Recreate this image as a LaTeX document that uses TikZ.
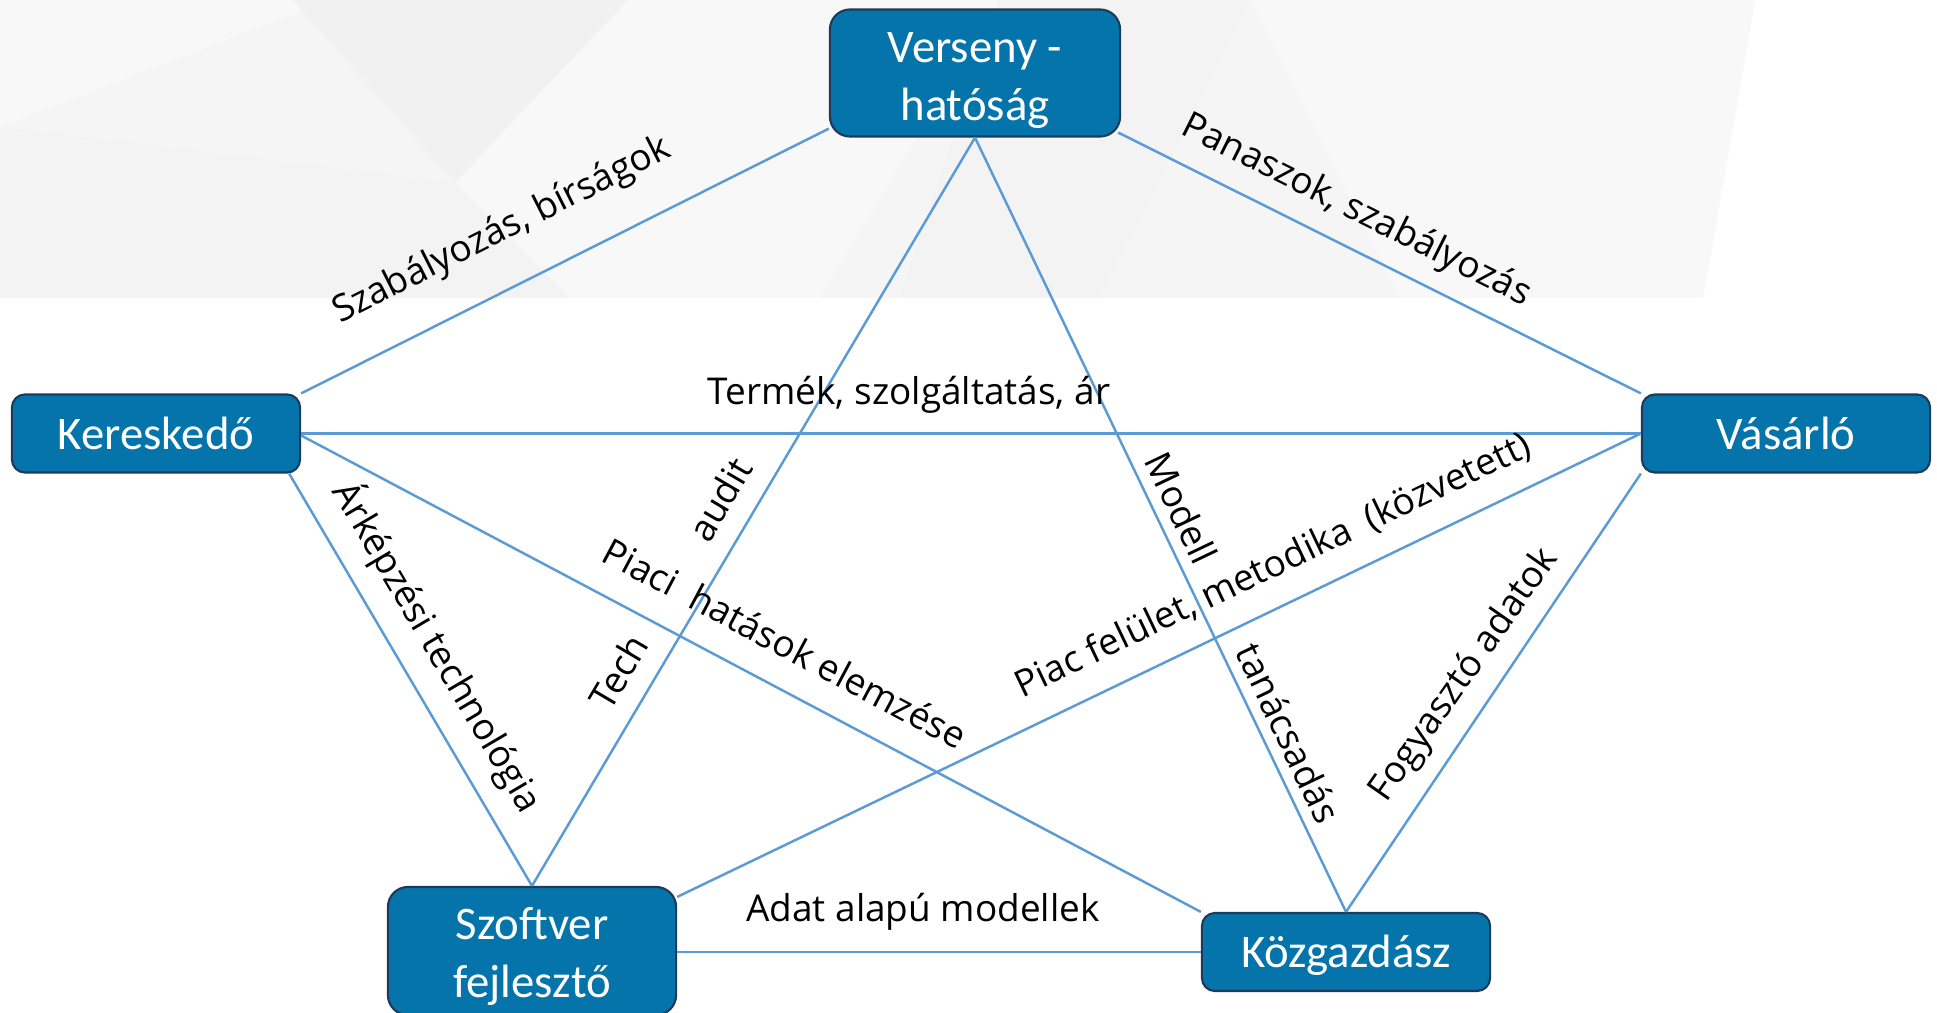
\documentclass[tikz,border=0pt]{standalone}
\usepackage{fontspec}
\setmainfont{Open Sans}
\newfontfamily\boxfont{Carlito}
\definecolor{nodefill}{RGB}{4,116,170}
\definecolor{nodeedge}{RGB}{30,58,90}
\definecolor{linkblue}{RGB}{91,155,213}
\definecolor{bgbase}{RGB}{245,245,245}
\definecolor{bglight}{RGB}{248,248,248}
\definecolor{bgdark}{RGB}{241,241,241}
\definecolor{bgmid}{RGB}{243,243,243}

\begin{document}
\begin{tikzpicture}[x=0.01cm,y=-0.01cm,
  actor/.style={draw=nodeedge, line width=0.6pt, fill=nodefill, inner sep=0pt},
  actortext/.style={text=white, align=center, inner sep=0pt,
    font=\boxfont\fontsize{13.3}{16.5}\selectfont},
  wide/.style={minimum width=2.90cm, minimum height=1.27cm, rounded corners=0.2cm},
  flat/.style={minimum width=2.88cm, minimum height=0.78cm, rounded corners=0.13cm},
  link/.style={draw=linkblue, line width=0.7pt},
  lbl/.style={font=\fontsize{10.5}{12}\selectfont, text=black, inner sep=0pt}]
\useasboundingbox (0,0) rectangle (1937,1013);
\clip (0,0) rectangle (1937,1013);
\fill[white] (0,0) rectangle (1937,1013);

% faceted grey header band
\fill[bgbase] (0,0) -- (1755,0) -- (1703,298) -- (0,298) -- cycle;
\fill[bgmid] (0,127) -- (455,183) -- (570,298) -- (0,298) -- cycle;
\fill[bglight] (0,0) -- (330,0) -- (0,127) -- cycle;
\fill[bgdark] (293,0) -- (628,0) -- (455,183) -- cycle;
\fill[bglight] (628,0) -- (1000,0) -- (820,298) -- (570,298) -- (455,183) -- cycle;
\fill[bglight] (1250,0) -- (1755,0) -- (1703,298) -- (1400,298) -- cycle;
\fill[bgmid] (1000,0) -- (1250,0) -- (1100,298) -- (900,298) -- cycle;

% actors
\node[actor, wide] (ver) at (975,73) {};
\node[actor, flat] (ker) at (156,433.5) {};
\node[actor, flat] (vas) at (1786,433.5) {};
\node[actor, minimum width=2.88cm, minimum height=1.28cm, rounded corners=0.2cm] (szo) at (532,951) {};
\node[actor, flat] (kozg) at (1346,952) {};

\node[actortext] (vert) at ([yshift=-0.08cm]ver.center) {Verseny -\\hatóság};
\node[actortext] (kert) at (ker.center) {Kereskedő};
\node[actortext] (vast) at (vas.center) {Vásárló};
\node[actortext] (szot) at ([yshift=-0.055cm]szo.center) {Szoftver\\fejlesztő};
\node[actortext] (kozgt) at ([yshift=-0.035cm]kozg.center) {Közgazdász};

% relations
\draw[link] ([yshift=0.09cm]ver.south west) -- (ker.north east);
\draw[link] ([xshift=-0.03cm,yshift=0.05cm]ver.south east) -- (vas.north west);
\draw[link] (ver.south) -- (szo.north);
\draw[link] (ver.south) -- (kozg.north);
\draw[link] (ker.east) -- (vas.west);
\draw[link] ([xshift=-0.12cm]ker.south east) -- (szo.north);
\draw[link] ([yshift=-0.02cm]ker.east) -- (kozg.north west);
\draw[link] (vas.west) -- ([yshift=-0.11cm]szo.north east);
\draw[link] (vas.south west) -- (kozg.north);
\draw[link] (szo.east |- kozg.west) -- (kozg.west);

% relation labels
\node[lbl, rotate=26.7] (l1) at (502,231) {Szabályozás, bírságok};
\node[lbl, rotate=-26.6] (l2) at (1356,211) {Panaszok, szabályozás};
\node[lbl] (l3) at (909,395) {Termék, szolgáltatás, ár};
\node[lbl, rotate=-59.5] (l4) at (438,647) {Árképzési technológia};
\node[lbl, rotate=59.5] (l5) at (670,583.5) {Tech\hspace{33pt}audit};
\node[lbl, rotate=-28] (l6) at (785,643) {Piaci~~hatások elemzése};
\node[lbl, rotate=-64.5] (l7) at (1243.5,637.5) {Modell\hspace{26.6pt}tanácsadás};
\node[lbl, rotate=25.5] (l8) at (1273,566) {Piac felület, metodika~~(közvetett)};
\node[lbl, rotate=55] (l9) at (1464.5,675) {Fogyasztó adatok};
\node[lbl] (l10) at (923,912) {Adat alapú modellek};
\end{tikzpicture}
\end{document}
